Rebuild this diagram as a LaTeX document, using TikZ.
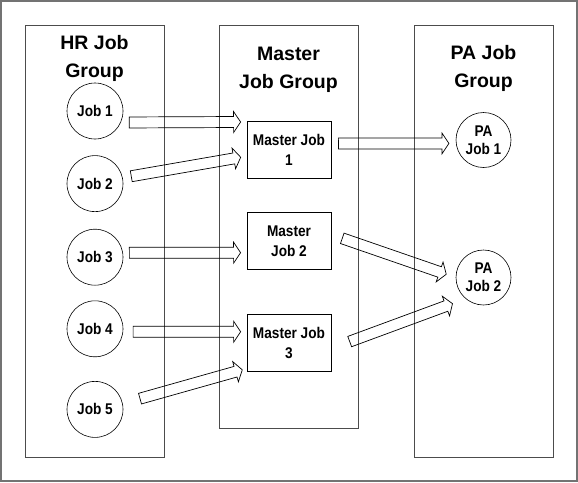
\documentclass[tikz,border=0pt]{standalone}
\usepackage{fontspec}
\setmainfont{Liberation Sans}
\newfontfamily\narrowfont{Liberation Sans}[FakeStretch=0.88]
\usetikzlibrary{positioning,calc}
\tikzstyle{frame} = [draw=black!55, line width=1.5pt]
\tikzstyle{group} = [rectangle, draw=black!70, line width=0.8pt, inner sep=0pt]
\tikzstyle{title} = [align=center, inner sep=0pt, font=\bfseries\fontsize{19.5}{28}\selectfont]
\tikzstyle{job} = [circle, draw, line width=0.6pt, minimum size=56pt, inner sep=0pt,
    align=center, font=\narrowfont\bfseries\fontsize{15.5}{18}\selectfont]
\tikzstyle{master} = [rectangle, draw, line width=0.8pt, minimum width=84pt,
    minimum height=57pt, inner sep=0pt, align=center, font=\narrowfont\bfseries\fontsize{15.5}{20}\selectfont]
\newcommand{\tailgap}{8pt}
\newcommand{\tipgap}{6pt}
\tikzset{
  tail gap/.store in=\tailgap,
  tip gap/.store in=\tipgap,
  bigarrow/.style={draw, line width=0.7pt, line join=miter,
    to path={
      ($(\tikztostart)!\tailgap!(\tikztotarget)$) coordinate (ba-s)
      ($(\tikztotarget)!\tipgap!(\tikztostart)$) coordinate (ba-t)
      ($(ba-t)!7pt!(ba-s)$) coordinate (ba-h)
      ($(ba-s)!5.5pt!90:(ba-t)$) -- ($(ba-h)!5.5pt!90:(ba-t)$)
      -- ($(ba-h)!10.5pt!90:(ba-t)$) -- (ba-t)
      -- ($(ba-h)!10.5pt!-90:(ba-t)$) -- ($(ba-h)!5.5pt!-90:(ba-t)$)
      -- ($(ba-s)!5.5pt!-90:(ba-t)$) -- cycle}}
}

\begin{document}
\begin{tikzpicture}[x=1pt, y=-1pt]
		\useasboundingbox (0,0) rectangle (578,482);
		\draw[frame] (1,1) rectangle (577,481);
		% groups
		\node [group, minimum width=139pt, minimum height=432pt] (hr) at (94.5,241) {};
		\node [group, minimum width=139pt, minimum height=403pt] (mg) at (288.5,226.5) {};
		\node [group, minimum width=139pt, minimum height=432pt] (pa) at (483.5,241) {};
		\node [title] (hrT) at (94.5,58) {HR Job\\Group};
		\node [title] (mgT) at (288.5,70) {Master\\Job Group};
		\node [title] (paT) at (483.5,68) {PA Job\\Group};
		
		% hr jobs
		\node [job] (j1) at (95,111) {Job 1};
		\node [job, below = 16pt of j1] (j2) {Job 2};
		\node [job, below = 17pt of j2] (j3) {Job 3};
		\node [job, below = 15pt of j3] (j4) {Job 4};
		\node [job, below = 24pt of j4] (j5) {Job 5};
		
		% master jobs
		\node [master] (mj1) at (289,149.5) {Master Job\\1};
		\node [master, below = 34pt of mj1] (mj2) {Master\\Job 2};
		\node [master, below = 44pt of mj2] (mj3) {Master Job\\3};
		
		% pa jobs
		\node [job, minimum size=55pt] (pa1) at (483.5,140) {PA\\Job 1};
		\node [job, minimum size=55pt] (pa2) at (483.5,277.5) {PA\\Job 2};
		
		\draw[bigarrow, tail gap=8.4pt] (j1.-24) to (mj1.147);
		\draw[bigarrow, tail gap=8.7pt] (j2.12) to (mj1.189);
		\draw[bigarrow, tail gap=6.4pt] (j3.9) to (mj2.195);
		\draw[bigarrow, tail gap=10pt] (j4.-6) to (mj3.165);
		\draw[bigarrow, tail gap=18pt, tip gap=4.5pt] (j5.12) to (mj3.211);
		\draw[bigarrow, tail gap=7pt, tip gap=7pt] (mj1.8) to (pa1.187);
		\draw[bigarrow, tail gap=11.5pt, tip gap=10pt] (mj2.9) to (pa2.180);
		\draw[bigarrow, tail gap=19.5pt, tip gap=14pt] (mj3.-7) to (pa2.230);
	\end{tikzpicture}
\end{document}
